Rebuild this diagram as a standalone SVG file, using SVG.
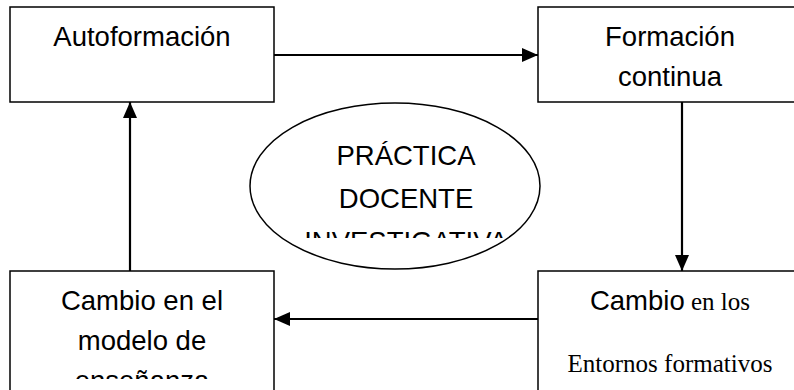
<svg xmlns="http://www.w3.org/2000/svg" width="794" height="390" viewBox="0 0 794 390">
<style>
.box{fill:#fff;stroke:#000;stroke-width:1.5}
.conn{stroke:#000;stroke-width:2.2;fill:none}
.t{font-family:"Liberation Sans",Arial,sans-serif;font-size:27.5px;fill:#000;text-anchor:middle}
.s{font-family:"Liberation Serif","Times New Roman",serif;font-size:25px}
</style>
<defs>
<marker id="ah" markerUnits="userSpaceOnUse" markerWidth="16" markerHeight="16" viewBox="0 0 16 16" refX="16" refY="8" orient="auto">
<path d="M0,1 L16,8 L0,15 Z" fill="#000"/>
</marker>
<clipPath id="ce"><rect x="250" y="100" width="300" height="138"/></clipPath>
<clipPath id="cb3"><rect x="10" y="271" width="264" height="108"/></clipPath>
</defs>
<g id="connectors">
<line class="conn" x1="274" y1="55" x2="538" y2="55" marker-end="url(#ah)"/>
<line class="conn" x1="682" y1="102" x2="682" y2="271" marker-end="url(#ah)"/>
<line class="conn" x1="538" y1="319" x2="274" y2="319" marker-end="url(#ah)"/>
<line class="conn" x1="130" y1="271" x2="130" y2="102" marker-end="url(#ah)"/>
</g>
<g id="autoformacion">
<rect class="box" x="10" y="7" width="264" height="95"/>
<text class="t" x="142" y="46">Autoformación</text>
</g>
<g id="formacion-continua">
<rect class="box" x="538" y="7" width="264" height="95"/>
<text class="t" x="670" y="46">Formación</text>
<text class="t" x="670" y="86">continua</text>
</g>
<g id="practica">
<ellipse cx="395" cy="186" rx="145" ry="83" fill="#fff" stroke="#000" stroke-width="1.5"/>
<g clip-path="url(#ce)">
<text class="t" x="406" y="165">PRÁCTICA</text>
<text class="t" x="406" y="208">DOCENTE</text>
<text class="t" x="406" y="251">INVESTIGATIVA</text>
</g>
</g>
<g id="cambio-modelo">
<rect class="box" x="10" y="271" width="264" height="130"/>
<g clip-path="url(#cb3)">
<text class="t" x="142" y="310">Cambio en el</text>
<text class="t" x="142" y="350">modelo de</text>
<text class="t" x="142" y="390">enseñanza</text>
</g>
</g>
<g id="cambio-entornos">
<rect class="box" x="538" y="271" width="264" height="130"/>
<text class="t" x="670" y="310">Cambio<tspan class="s"> en los</tspan></text>
<text class="t s" x="670" y="372">Entornos formativos</text>
</g>
</svg>
